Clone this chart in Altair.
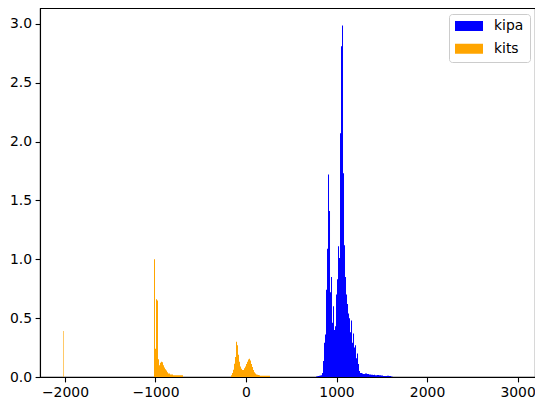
import altair as alt
import pandas as pd

# ---- data (histogram bins, 1 bin ~ 11.05 units) ----
bin_width = 11.048

kipa_start = 773.36
kipa_heights = [
    0.004, 0.006, 0.008, 0.01, 0.012, 0.015, 0.035, 0.136, 0.29, 0.36,
    0.74, 1.09, 1.72, 1.41, 0.72, 0.85, 0.46, 0.60, 0.40, 0.43,
    0.70, 0.83, 1.11, 1.01, 2.07, 2.81, 2.985, 1.73, 1.12, 0.85,
    0.70, 0.62, 0.54, 0.50, 0.38, 0.48, 0.29, 0.37, 0.25, 0.27,
    0.16, 0.20, 0.11, 0.05, 0.035, 0.035, 0.03, 0.025, 0.025, 0.03,
    0.03, 0.025, 0.025, 0.022, 0.022, 0.02, 0.02, 0.018, 0.02, 0.015,
    0.015, 0.018, 0.018, 0.015, 0.015, 0.012, 0.012, 0.008, 0.008, 0.008,
    0.008, 0.01, 0.01, 0.008, 0.008, 0.004, 0.003,
]

kits_spike_start = -2021.9
kits_spike_width = 6.6
kits_spike_height = 0.39

kits_air_start = -1016.5
kits_air_heights = [
    1.00, 0.24, 0.66, 0.65, 0.15, 0.10, 0.12, 0.13, 0.125, 0.10,
    0.08, 0.065, 0.055, 0.04, 0.03, 0.03, 0.022, 0.022, 0.022, 0.014,
    0.014, 0.014, 0.014, 0.014, 0.014, 0.014, 0.014, 0.014, 0.014,
]

kits_soft_start = -165.76
kits_soft_heights = [
    0.014, 0.034, 0.062, 0.113, 0.17, 0.30, 0.27, 0.19, 0.13, 0.09,
    0.07, 0.06, 0.06, 0.075, 0.09, 0.11, 0.13, 0.148, 0.155, 0.14,
    0.11, 0.085, 0.06, 0.04, 0.03, 0.022, 0.02, 0.016, 0.015, 0.01,
    0.01, 0.01, 0.01, 0.01, 0.01, 0.01, 0.01, 0.01, 0.01,
]

series_names = ["kipa", "kits"]
series_colors = ["#0000ff", "#ffa500"]

x_ticks = [-2000, -1000, 0, 1000, 2000, 3000]
y_ticks = [0.0, 0.5, 1.0, 1.5, 2.0, 2.5, 3.0]

# ---- build table ----
rows = []
for i, h in enumerate(kipa_heights):
    x0 = kipa_start + i * bin_width
    rows.append({"series": "kipa", "x0": x0, "x1": x0 + bin_width, "h": h, "b": 0.0})
rows.append({"series": "kits", "x0": kits_spike_start,
             "x1": kits_spike_start + kits_spike_width, "h": kits_spike_height, "b": 0.0})
for start, heights in [(kits_air_start, kits_air_heights), (kits_soft_start, kits_soft_heights)]:
    for i, h in enumerate(heights):
        x0 = start + i * bin_width
        rows.append({"series": "kits", "x0": x0, "x1": x0 + bin_width, "h": h, "b": 0.0})
df = pd.DataFrame(rows)

FONT = "DejaVu Sans"
FS = 13.9
X_MIN = -2276.0
X_MAX = X_MIN + 495 * bin_width

chart = alt.Chart(df).mark_rect(strokeWidth=0).encode(
    x=alt.X("x0:Q", title=None,
            scale=alt.Scale(domain=[X_MIN, X_MAX], nice=False, zero=False),
            axis=alt.Axis(values=x_ticks, format="d", grid=False)),
    x2="x1:Q",
    y=alt.Y("h:Q", title=None,
            scale=alt.Scale(domain=[0, 3.134], nice=False, zero=False),
            axis=alt.Axis(values=y_ticks, format=".1f", grid=False)),
    y2="b:Q",
    color=alt.Color("series:N",
                    scale=alt.Scale(domain=series_names, range=series_colors),
                    legend=alt.Legend(
                        orient="none", legendX=409, legendY=6, title=None,
                        symbolType="M-1,-0.357H1V0.357H-1Z", symbolSize=784,
                        symbolStrokeWidth=0, symbolOpacity=1,
                        clipHeight=12,
                        labelFont=FONT, labelFontSize=FS, labelColor="black",
                        labelOffset=11, padding=6, rowPadding=8.8,
                        strokeColor="#cccccc", fillColor="white",
                        cornerRadius=3)),
).properties(
    width=495, height=369,
    autosize=alt.AutoSizeParams(type="none"),
    padding={"left": 32, "top": 0, "right": 0, "bottom": 23},
).configure_view(
    stroke="black", strokeWidth=1.1
).configure_axis(
    labelFont=FONT, labelFontSize=FS, labelColor="black",
    tickColor="black", tickSize=4.9, tickWidth=1.1,
    domainColor="black", domainWidth=1.1, labelPadding=3.5,
)

chart.save("out.html", embed_options={"renderer": "svg", "actions": False})
